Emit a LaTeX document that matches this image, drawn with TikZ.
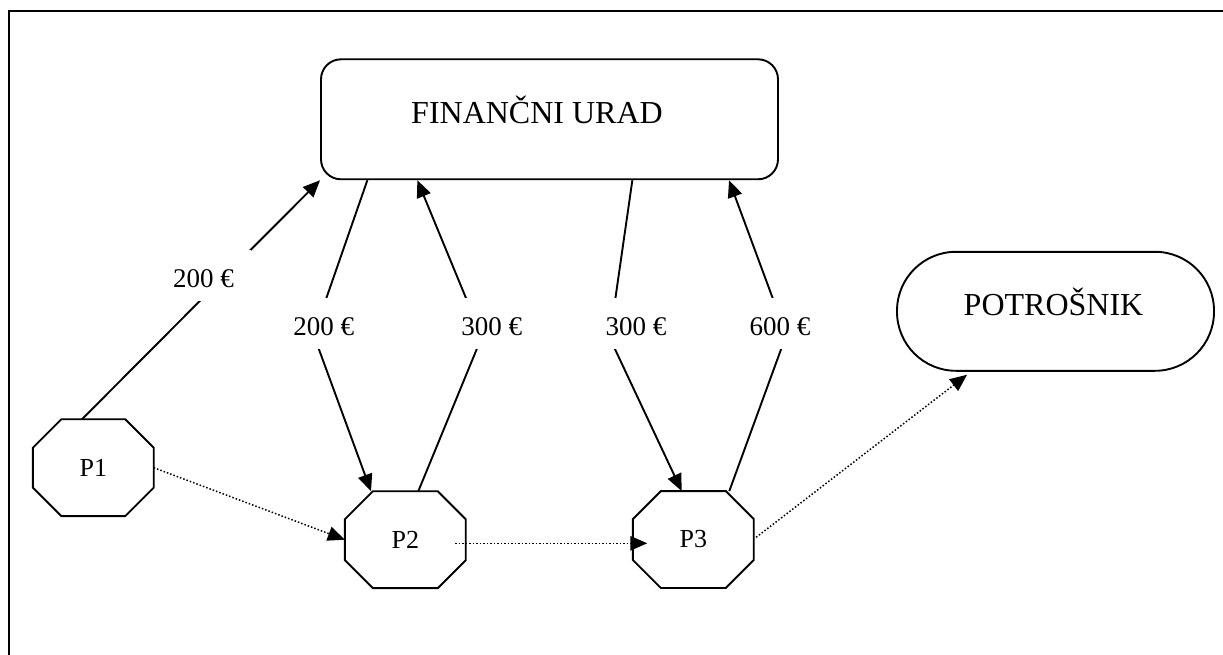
\documentclass[tikz,border=0pt]{standalone}
\usepackage{fontspec}
\setmainfont{Liberation Serif}
\usetikzlibrary{arrows.meta,calc}

% octagonal outline around a (rectangular, undrawn) node: #1 node name, #2 chamfer
\newcommand\octframe[2]{%
  \draw[outline] ([xshift=#2]#1.north west) -- ([xshift=-#2]#1.north east)
    -- ([yshift=-#2]#1.north east) -- ([yshift=#2]#1.south east)
    -- ([xshift=-#2]#1.south east) -- ([xshift=#2]#1.south west)
    -- ([yshift=#2]#1.south west) -- ([yshift=-#2]#1.north west) -- cycle;}

\tikzset{
  outline/.style={line width=1.9pt, line join=miter},
  office/.style={draw, outline, rounded corners=20pt, minimum width=457pt,
    minimum height=120pt, inner sep=0pt},
  buyer/.style={draw, outline, rounded corners=59pt, minimum width=317pt,
    minimum height=119pt, inner sep=0pt},
  firm/.style={inner sep=0pt, minimum width=120.5pt, minimum height=96.5pt,
    font=\fontsize{26}{30}\selectfont},
  bigtxt/.style={font=\fontsize{32}{38}\selectfont, inner sep=0pt, anchor=base},
  amount/.style={fill=white, font=\fontsize{27}{32}\selectfont, text height=23pt,
    text depth=0pt, inner xsep=0pt, inner ysep=14.3pt, minimum width=70pt},
  flow/.style={line width=1.9pt, -{Triangle[length=17pt,width=14.5pt]}},
  goods/.style={line width=1.5pt, dash pattern=on 1.5pt off 2pt,
    -{Triangle[length=17pt,width=14.5pt]}},
}

\begin{document}
\begin{tikzpicture}[x=1pt,y=-1pt]
\useasboundingbox (0,0) rectangle (1223,655);

% frame
\draw[line width=2.2pt] (9,655) -- (9,11) -- (1223,11);

% tax office and consumer
\node[office] (fu) at (549.5,119.3) {};
\node[bigtxt] (futxt) at (537,124) {FINANČNI URAD};
\node[buyer] (pot) at (1055.5,311.3) {};
\node[bigtxt] (pottxt) at (1053.5,315) {POTROŠNIK};

% firms
\node[firm] (p1) at (93.3,467.7) {P1};
\node[firm] (p2) at (405.3,539.7) {P2};
\node[firm] (p3) at (693.3,539.5) {P3};
\octframe{p1}{28.5pt}
\octframe{p2}{28pt}
\octframe{p3}{28pt}

% bends of the money flows (hidden under the amounts)
\coordinate (b2) at (313.6,334.8);
\coordinate (b3) at (481.9,336.6);
\coordinate (b4) at (609.7,337.9);
\coordinate (b5) at (786.3,334.9);

% money flows
\draw[flow] ($(p1.north)+(-11.3,0)$) -- (fu.south west);
\draw[flow] ($(fu.south west)+(47.3,0)$) -- (b2) -- ($(p2.north)+(-34.3,0)$);
\draw[flow] ($(p2.north)+(13,0)$) -- (b3) -- ($(fu.south west)+(97.3,0)$);
\draw[flow] ($(fu.south west)+(312.3,0)$) -- (b4) -- ($(p3.north)+(-11.6,0)$);
\draw[flow] ($(p3.north)+(36,0)$) -- (b5) -- ($(fu.south west)+(409,0)$);

% flow of goods
\draw[goods] (p1.east) -- (p2.west);
\draw[goods] ($(p2.east)+(-10.7,3.6)$) -- ($(p3.west)+(14.4,3.8)$);
\draw[goods] ($(p3.east)+(2.4,-2.2)$) -- ($(pot.south west)+(71,3)$);

% amounts
\node[amount, minimum width=94pt] (a1) at (203.5,275.5) {200 €};
\node[amount] (a2) at (323.7,323.5) {200 €};
\node[amount] (a3) at (491.7,323.5) {300 €};
\node[amount] (a4) at (636,323.5) {300 €};
\node[amount] (a5) at (780,323.5) {600 €};
\end{tikzpicture}
\end{document}
